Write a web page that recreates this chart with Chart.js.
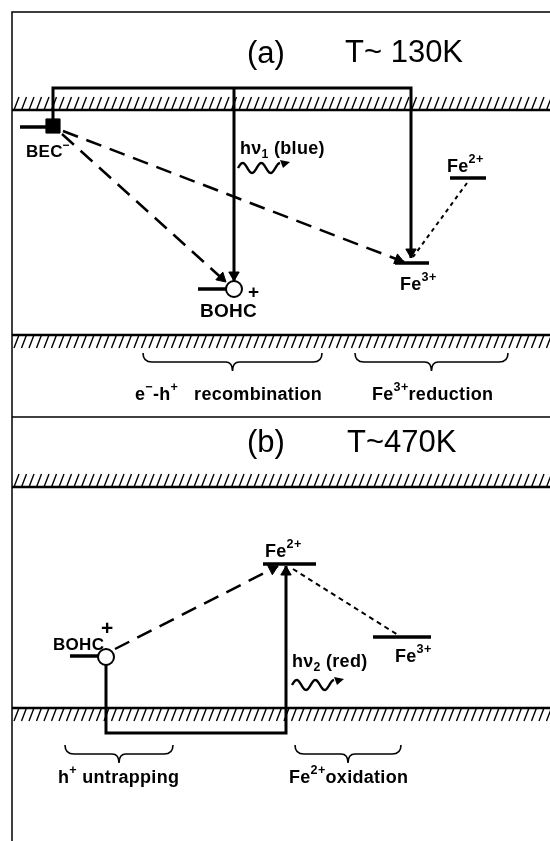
<!DOCTYPE html>
<html>
<head>
<meta charset="utf-8">
<script src="https://cdn.jsdelivr.net/npm/chart.js@4.4.1/dist/chart.umd.min.js"></script>
<style>
html, body { margin: 0; padding: 0; background: #fff; }
#wrap { width: 550px; height: 841px; position: relative; }
</style>
</head>
<body>
<div id="wrap"><canvas id="myChart"></canvas></div>
<script>
// diagram units: x runs 0..550 across, y runs 0..841 downwards (higher energy = smaller y)

// frame and separator between panel (a) and panel (b)
const frameBox = [12, 12, 550, 841];   // left, top, right, bottom
const separatorY = 417;

// band edges: CB (a), VB (a), CB (b), VB (b)
const bandY = [110, 335, 487, 708];
const bandSide = [-1, 1, -1, 1];   // hatching above the CB, below the VB

// localized levels
const levelNames = ['BEC-', 'BOHC (a)', 'Fe2+ (a)', 'Fe3+ (a)', 'BOHC (b)', 'Fe2+ (b)', 'Fe3+ (b)'];
const levelX1 = [20, 198, 450, 395, 70, 263, 373];
const levelX2 = [47, 226, 486, 429, 98, 316, 431];
const levelY  = [127, 289, 178, 263, 656, 564, 637];

// trapped charges
const bohcCenters = [[234, 289], [106, 657]];
const becCenter = [[53, 126]];

// excitation paths (solid), with arrow at the last point
const excitePathA = [[53, 120], [53, 88], [411, 88], [411, 258]];
const exciteBranchA = [[234, 88], [234, 281]];
const excitePathB = [[106, 665], [106, 733], [286, 733], [286, 566]];

// recombination / capture (dashed, arrowed)
const recombA1 = [[62, 134], [226, 282]];
const recombA2 = [[63, 131], [404, 262]];
const untrapB = [[115, 649], [278, 566]];

// charge transfer between iron levels (dotted)
const ironA = [[467, 183], [413, 257]];
const ironB = [[293, 569], [398, 635]];

// photon symbols
const photonX = [238, 292];
const photonY = [168, 685];

// braces under the valence band
const braceX1 = [143, 355, 65, 295];
const braceX2 = [322, 508, 173, 401];
const braceY  = [353, 353, 745, 745];

// text: string, x, baseline, size, weight (^{} superscript, _{} subscript)
const labelText = ['(a)', 'T~ 130K', '(b)', 'T~470K',
  'BEC^{−}', 'hν_{1} (blue)', 'Fe^{2+}', 'Fe^{3+}', 'BOHC', '+',
  'e^{−}-h^{+}   recombination', 'Fe^{3+}reduction',
  'BOHC', '+', 'Fe^{2+}', 'Fe^{3+}', 'hν_{2} (red)',
  'h^{+} untrapping', 'Fe^{2+}oxidation'];
const labelX = [247, 345, 247, 347,
  26, 240, 447, 400, 200, 248,
  135, 372,
  53, 101, 265, 395, 292,
  58, 289];
const labelY = [63, 62, 452, 452,
  157, 154, 172, 290, 317, 298,
  400, 400,
  650, 635, 557, 662, 667,
  783, 783];
const labelSize = [31, 31, 31, 31,
  17, 18, 18, 18, 19, 19,
  18, 18,
  17, 21, 18, 18, 18,
  18, 18];
const labelWeight = ['normal', 'normal', 'normal', 'normal',
  'bold', 'bold', 'bold', 'bold', 'bold', 'bold',
  'bold', 'bold',
  'bold', 'bold', 'bold', 'bold', 'bold',
  'bold', 'bold'];


function pts(list)
{
    return list.map(p => ({x: p[0], y: p[1]}));
}

function lineSet(list, width, dash)
{
    return {
        data: pts(list),
        showLine: true,
        borderColor: '#000',
        borderWidth: width,
        borderDash: dash || [],
        pointRadius: 0,
        fill: false,
        order: 5
    };
}

// arrow head sits just behind the tip, turned along the last segment
function arrowHead(path)
{
    const a = path[path.length - 2];
    const b = path[path.length - 1];
    const dx = b[0] - a[0];
    const dy = b[1] - a[1];
    const len = Math.hypot(dx, dy);
    const r = 6;
    return {x: b[0] - dx / len * r, y: b[1] - dy / len * r, rot: Math.atan2(dx, -dy) * 180 / Math.PI};
}

const arrowed = [excitePathA, exciteBranchA, excitePathB, recombA1, recombA2, untrapB];
const heads = arrowed.map(arrowHead);

let datasets = [];

datasets.push({
    data: pts(bohcCenters),
    pointStyle: 'circle',
    pointRadius: 8,
    pointBackgroundColor: '#fff',
    pointBorderColor: '#000',
    pointBorderWidth: 2,
    showLine: false,
    order: 0
});

datasets.push({
    data: pts(becCenter),
    pointStyle: 'rect',
    pointRadius: 10,
    pointBackgroundColor: '#000',
    pointBorderColor: '#000',
    pointBorderWidth: 1,
    showLine: false,
    order: 1
});

datasets.push({
    data: heads.map(h => ({x: h.x, y: h.y})),
    pointStyle: 'triangle',
    pointRadius: 6,
    pointRotation: heads.map(h => h.rot),
    pointBackgroundColor: '#000',
    pointBorderColor: '#000',
    pointBorderWidth: 1,
    showLine: false,
    order: 2
});

// frame
datasets.push(lineSet([[frameBox[0], frameBox[3]], [frameBox[0], frameBox[1]], [frameBox[2], frameBox[1]]], 1.5));
datasets.push(lineSet([[frameBox[0], separatorY], [frameBox[2], separatorY]], 1.5));

// band edges
for (let i = 0; i < bandY.length; i += 1)
{
    datasets.push(lineSet([[frameBox[0], bandY[i]], [frameBox[2], bandY[i]]], 2.5));
}

// levels
for (let i = 0; i < levelY.length; i += 1)
{
    datasets.push(lineSet([[levelX1[i], levelY[i]], [levelX2[i], levelY[i]]], 3.5));
}

datasets.push(lineSet(excitePathA, 3));
datasets.push(lineSet(exciteBranchA, 3));
datasets.push(lineSet(excitePathB, 3));
datasets.push(lineSet(recombA1, 2.5, [16, 9]));
datasets.push(lineSet(recombA2, 2.5, [16, 9]));
datasets.push(lineSet(untrapB, 2.5, [16, 9]));
datasets.push(lineSet(ironA, 2, [4, 4]));
datasets.push(lineSet(ironB, 2, [5, 4]));


function drawRich(ctx, str, x, y, size, weight)
{
    const parts = str.split(/(\^\{[^}]*\}|_\{[^}]*\})/).filter(s => s.length);
    let cx = x;
    for (const p of parts)
    {
        let txt = p;
        let fs = size;
        let dy = 0;
        if (p.startsWith('^{'))
        {
            txt = p.slice(2, -1); fs = size * 0.7; dy = -size * 0.5;
        }
        else if (p.startsWith('_{'))
        {
            txt = p.slice(2, -1); fs = size * 0.68; dy = size * 0.22;
        }
        ctx.font = weight + ' ' + fs + 'px "Liberation Sans", Arial, sans-serif';
        ctx.fillText(txt, cx, y + dy);
        cx += ctx.measureText(txt).width;
    }
}

const diagramPlugin = {
    id: 'diagram',
    beforeDatasetsDraw(chart)
    {
        const ctx = chart.ctx;
        const xs = chart.scales.x;
        const ys = chart.scales.y;
        ctx.save();
        ctx.strokeStyle = '#000';
        ctx.lineWidth = 1.4;
        // hatching on the band edges
        for (let i = 0; i < bandY.length; i += 1)
        {
            const y0 = ys.getPixelForValue(bandY[i]);
            const h = 13 * bandSide[i];
            const top = Math.min(y0, y0 + h);
            const bot = Math.max(y0, y0 + h);
            ctx.beginPath();
            for (let x = xs.getPixelForValue(frameBox[0]) + 2; x < xs.getPixelForValue(frameBox[2]); x += 7.5)
            {
                ctx.moveTo(x, bot);
                ctx.lineTo(x + 5, top);
            }
            ctx.stroke();
        }
        ctx.restore();
    },
    afterDatasetsDraw(chart)
    {
        const ctx = chart.ctx;
        const xs = chart.scales.x;
        const ys = chart.scales.y;
        ctx.save();
        ctx.strokeStyle = '#000';
        ctx.fillStyle = '#000';

        // braces
        ctx.lineWidth = 1.6;
        for (let i = 0; i < braceX1.length; i += 1)
        {
            const a = xs.getPixelForValue(braceX1[i]);
            const b = xs.getPixelForValue(braceX2[i]);
            const y = ys.getPixelForValue(braceY[i]);
            const m = (a + b) / 2;
            ctx.beginPath();
            ctx.moveTo(a, y);
            ctx.quadraticCurveTo(a, y + 9, a + 9, y + 9);
            ctx.lineTo(m - 7, y + 9);
            ctx.quadraticCurveTo(m, y + 9, m, y + 18);
            ctx.quadraticCurveTo(m, y + 9, m + 7, y + 9);
            ctx.lineTo(b - 9, y + 9);
            ctx.quadraticCurveTo(b, y + 9, b, y);
            ctx.stroke();
        }

        // photon squiggles
        ctx.lineWidth = 2.4;
        for (let i = 0; i < photonX.length; i += 1)
        {
            const x0 = xs.getPixelForValue(photonX[i]);
            const y0 = ys.getPixelForValue(photonY[i]);
            ctx.beginPath();
            for (let t = 0; t <= 42; t += 1)
            {
                const px = x0 + t;
                const py = y0 - 5 * Math.sin(t / 42 * Math.PI * 4.5);
                if (t === 0) ctx.moveTo(px, py); else ctx.lineTo(px, py);
            }
            ctx.stroke();
            ctx.beginPath();
            ctx.moveTo(x0 + 52, y0 - 6);
            ctx.lineTo(x0 + 42, y0 - 8);
            ctx.lineTo(x0 + 45, y0);
            ctx.closePath();
            ctx.fill();
        }

        // labels
        ctx.textBaseline = 'alphabetic';
        ctx.textAlign = 'left';
        for (let i = 0; i < labelText.length; i += 1)
        {
            ctx.letterSpacing = labelWeight[i] === 'bold' ? '0.3px' : '0px';
            drawRich(ctx, labelText[i], xs.getPixelForValue(labelX[i]), ys.getPixelForValue(labelY[i]), labelSize[i], labelWeight[i]);
        }
        ctx.restore();
    }
};

const ctx = document.getElementById('myChart').getContext('2d');
const myChart = new Chart(ctx, {
    type: 'scatter',
    data: { datasets: datasets },
    options: {
        responsive: true,
        maintainAspectRatio: false,
        animation: false,
        events: [],
        layout: { padding: 0, autoPadding: false },
        plugins: {
            legend: { display: false },
            tooltip: { enabled: false }
        },
        scales: {
            x: { type: 'linear', min: 0, max: 550, display: false },
            y: { type: 'linear', min: 0, max: 841, reverse: true, display: false }
        }
    },
    plugins: [diagramPlugin]
});
</script>
</body>
</html>
